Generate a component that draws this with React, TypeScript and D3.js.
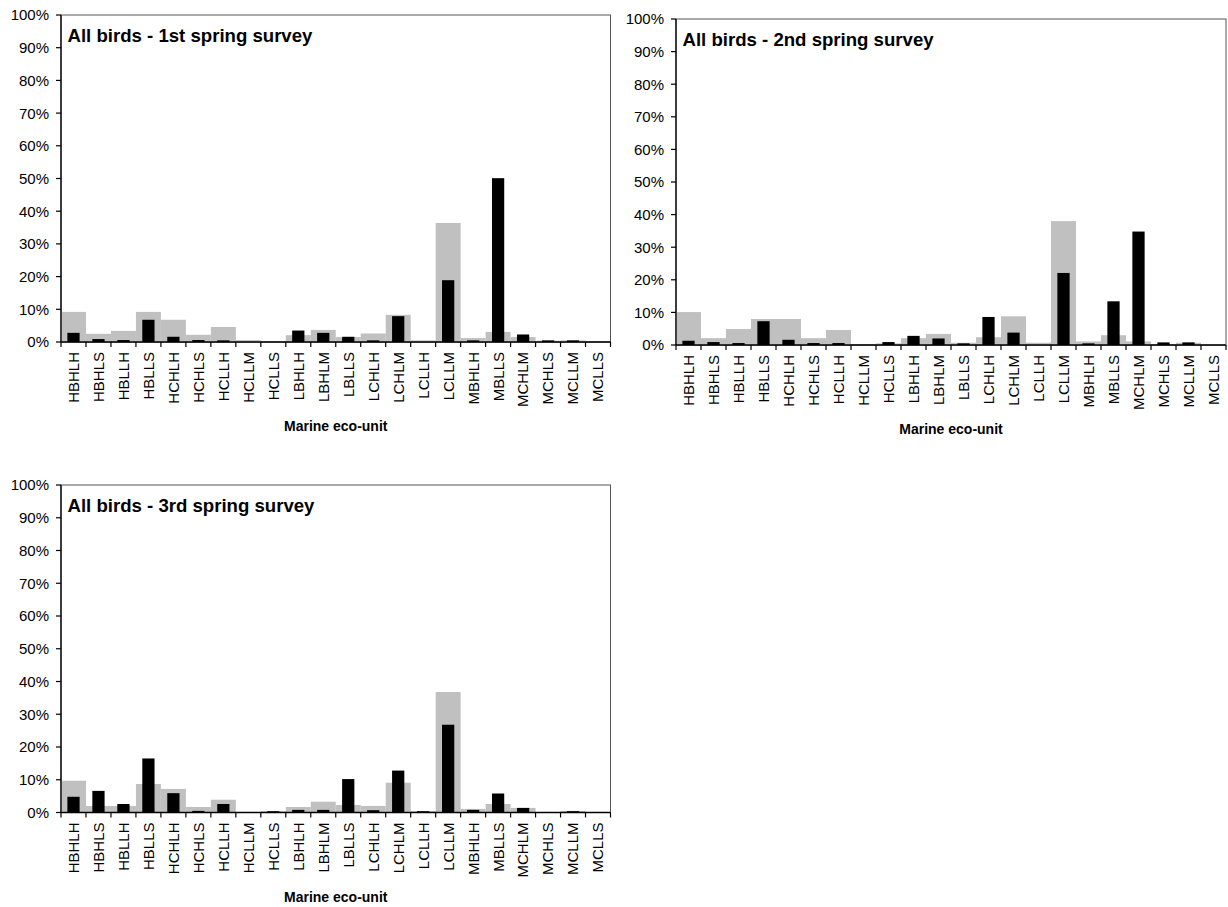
import React from "react";
import * as d3 from "d3";

// Marine eco-units on the category axis
const ecoUnits = [
  "HBHLH", "HBHLS", "HBLLH", "HBLLS", "HCHLH", "HCHLS", "HCLLH", "HCLLM",
  "HCLLS", "LBHLH", "LBHLM", "LBLLS", "LCHLH", "LCHLM", "LCLLH", "LCLLM",
  "MBHLH", "MBLLS", "MCHLM", "MCHLS", "MCLLM", "MCLLS",
];

// Grey bars: share of surveyed area per eco-unit (%)
const areaShare1 = [9.2, 2.5, 3.4, 9.2, 6.8, 2.2, 4.6, 0.6, 0.1, 2.1, 3.7, 1.5, 2.6, 8.3, 0.5, 36.4, 1.2, 3.1, 1.5, 0.4, 0.5, 0];
const areaShare2 = [10.1, 2.1, 4.9, 8.0, 8.0, 2.1, 4.6, 0, 0.5, 2.1, 3.4, 0.7, 2.4, 8.8, 0.7, 38.0, 1.1, 3.0, 1.1, 0.1, 0.7, 0.3];
const areaShare3 = [9.7, 2.0, 2.0, 8.7, 7.2, 1.7, 3.9, 0, 0.4, 1.7, 3.3, 2.3, 2.0, 9.1, 0.4, 36.8, 1.1, 2.6, 1.4, 0.1, 0.5, 0];

// Black bars: share of all birds counted per eco-unit (%)
const birdShare1 = [2.8, 0.9, 0.6, 6.8, 1.6, 0.6, 0.5, 0, 0, 3.5, 2.8, 1.6, 0.5, 7.9, 0, 18.9, 0.5, 50.1, 2.3, 0.5, 0.5, 0];
const birdShare2 = [1.3, 0.9, 0.6, 7.3, 1.6, 0.6, 0.6, 0, 0.9, 2.8, 2.0, 0.5, 8.6, 3.8, 0, 22.1, 0.5, 13.4, 34.8, 0.8, 0.8, 0];
const birdShare3 = [4.8, 6.6, 2.6, 16.5, 5.9, 0.5, 2.6, 0, 0.4, 0.8, 0.8, 10.2, 0.7, 12.8, 0.4, 26.8, 0.8, 5.8, 1.4, 0, 0.4, 0];

const yTicks = [0, 10, 20, 30, 40, 50, 60, 70, 80, 90, 100];

const panelTitles = [
  "All birds - 1st spring survey",
  "All birds - 2nd spring survey",
  "All birds - 3rd spring survey",
];
const xAxisTitle = "Marine eco-unit";

const FONT = "'Liberation Sans', Arial, Helvetica, sans-serif";

type PanelProps = {
  left: number;
  right: number;
  top: number;
  bottom: number;
  title: string;
  grey: number[];
  black: number[];
};

function Panel({ left, right, top, bottom, title, grey, black }: PanelProps) {
  const x = d3.scaleBand<string>().domain(ecoUnits).range([left, right]).paddingInner(0).paddingOuter(0);
  const y = d3.scaleLinear().domain([0, 100]).range([bottom, top]);
  const bw = x.bandwidth();
  const blackW = bw * 0.49;
  const boundaries = ecoUnits.map((c) => x(c)!).concat([right]);

  return (
    <g>
      {/* plot frame */}
      <rect x={left} y={top} width={right - left} height={bottom - top} fill="#fff" stroke="#555" strokeWidth={1} />
      {/* grey area bars */}
      {ecoUnits.map((c, i) => (
        <rect key={"g" + c} x={x(c)!} y={y(grey[i])} width={bw} height={y(0) - y(grey[i])} fill="#c0c0c0" />
      ))}
      {/* black bird bars */}
      {ecoUnits.map((c, i) => (
        <rect
          key={"b" + c}
          x={x(c)! + (bw - blackW) / 2}
          y={y(black[i])}
          width={blackW}
          height={y(0) - y(black[i])}
          fill="#000"
        />
      ))}
      {/* y axis */}
      <line x1={left} x2={left} y1={top} y2={bottom} stroke="#000" strokeWidth={1.3} />
      {yTicks.map((t) => (
        <g key={"yt" + t}>
          <line x1={left - 5} x2={left} y1={y(t)} y2={y(t)} stroke="#000" strokeWidth={1.2} />
          <text x={left - 12} y={y(t)} dy="0.36em" textAnchor="end" fontSize={15} fontFamily={FONT} fill="#000">
            {t + "%"}
          </text>
        </g>
      ))}
      {/* x axis */}
      <line x1={left} x2={right} y1={bottom} y2={bottom} stroke="#000" strokeWidth={1.3} />
      {boundaries.map((bx, i) => (
        <line key={"xt" + i} x1={bx} x2={bx} y1={bottom} y2={bottom + 5} stroke="#000" strokeWidth={1.2} />
      ))}
      {ecoUnits.map((c) => (
        <text
          key={"xl" + c}
          transform={`translate(${x(c)! + bw / 2},${bottom + 10}) rotate(-90)`}
          textAnchor="end"
          dy="0.36em"
          fontSize={15}
          fontFamily={FONT}
          fill="#000"
        >
          {c}
        </text>
      ))}
      <text
        x={(left + right) / 2}
        y={bottom + 89}
        textAnchor="middle"
        fontSize={14}
        fontWeight="bold"
        fontFamily={FONT}
        fill="#000"
      >
        {xAxisTitle}
      </text>
      {/* panel title */}
      <text x={left + 6.5} y={top + 26.5} fontSize={18.6} fontWeight="bold" fontFamily={FONT} fill="#000">
        {title}
      </text>
    </g>
  );
}

export default function App() {
  return (
    <svg
      width={1228}
      height={907}
      viewBox="0 0 1228 907"
      style={{ position: "absolute", left: 0, top: 0, background: "#fff" }}
    >
      <rect x={0} y={0} width={1228} height={907} fill="#fff" />
      <Panel left={61} right={610.5} top={15} bottom={342} title={panelTitles[0]} grey={areaShare1} black={birdShare1} />
      <Panel left={676} right={1226} top={19} bottom={345} title={panelTitles[1]} grey={areaShare2} black={birdShare2} />
      <Panel left={61} right={610.5} top={485} bottom={812.5} title={panelTitles[2]} grey={areaShare3} black={birdShare3} />
    </svg>
  );
}
